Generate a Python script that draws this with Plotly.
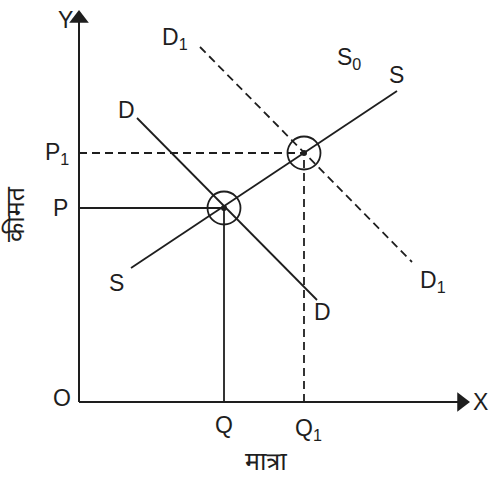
import plotly.graph_objects as go

# Coordinates measured from origin O (1 unit ~ 1 px of the reference)
# Demand D, shifted demand D1, supply S
d_x = [58, 238]
d_y = [284, 102]
d1_x = [121, 333]
d1_y = [355, 140]
s_x = [52, 318]
s_y = [134, 311]

# equilibria
eq_x = [145, 225]   # Q, Q1
eq_y = [194, 249]   # P, P1

# axes extent (arrow tips)
x_end = 391
y_end = 392

INK = "#1e1e1e"
FONT = "Liberation Sans, Arial, sans-serif"
HINDI = "Noto Sans Devanagari, Lohit Devanagari, Noto Sans, sans-serif"

fig = go.Figure()

def seg(xs, ys, dash="solid", width=1.8):
    fig.add_trace(go.Scatter(x=xs, y=ys, mode="lines",
                             line=dict(color=INK, width=width, dash=dash),
                             hoverinfo="skip", showlegend=False))

# axes
seg([0, x_end - 10], [0, 0], width=2)
seg([0, 0], [0, y_end - 10], width=2)
fig.add_trace(go.Scatter(x=[x_end - 8.5], y=[0], mode="markers",
                         marker=dict(symbol="triangle-right", size=17, color=INK),
                         hoverinfo="skip", showlegend=False))
fig.add_trace(go.Scatter(x=[0], y=[y_end - 8.5], mode="markers",
                         marker=dict(symbol="triangle-up", size=17, color=INK),
                         hoverinfo="skip", showlegend=False))

# curves
seg(d_x, d_y)
seg(s_x, s_y)
seg(d1_x, d1_y, dash="8px,5px")

# guides
seg([0, eq_x[0]], [eq_y[0], eq_y[0]])
seg([eq_x[0], eq_x[0]], [0, eq_y[0]])
seg([0, eq_x[1]], [eq_y[1], eq_y[1]], dash="8px,5px")
seg([eq_x[1], eq_x[1]], [0, eq_y[1]], dash="8px,5px")

# equilibrium markers
fig.add_trace(go.Scatter(x=eq_x, y=eq_y, mode="markers",
                         marker=dict(symbol="circle-open", size=33, color=INK,
                                     line=dict(width=1.8, color=INK)),
                         hoverinfo="skip", showlegend=False))
fig.add_trace(go.Scatter(x=eq_x, y=eq_y, mode="markers",
                         marker=dict(symbol="circle", size=6, color=INK),
                         hoverinfo="skip", showlegend=False))

labels = [
    ("Y", -14, 382),
    ("X", 401, 0),
    ("O", -17, 4),
    ("D<sub>1</sub>", 96, 364),
    ("S<sub>0</sub>", 270, 344),
    ("S", 317, 327),
    ("D", 47, 292),
    ("P<sub>1</sub>", -22, 249),
    ("P", -19, 194),
    ("S", 37, 119),
    ("D", 243, 90),
    ("D<sub>1</sub>", 354, 121),
    ("Q", eq_x[0], -23),
    ("Q<sub>1</sub>", eq_x[1] + 4, -27),
]
for txt, x, y in labels:
    fig.add_annotation(x=x, y=y, text=txt, showarrow=False,
                       font=dict(family=FONT, size=23, color=INK))

fig.add_annotation(x=-62, y=188, text="कीमत", textangle=-90, showarrow=False,
                   font=dict(family=HINDI, size=25, color=INK))
fig.add_annotation(x=187, y=-62, text="मात्रा", showarrow=False,
                   font=dict(family=HINDI, size=25, color=INK))

fig.update_layout(
    width=493, height=481,
    margin=dict(l=0, r=0, t=0, b=0),
    paper_bgcolor="white", plot_bgcolor="white",
    xaxis=dict(range=[-79, 414], visible=False, fixedrange=True),
    yaxis=dict(range=[-79, 402], visible=False, fixedrange=True),
)

fig.write_html("out.html", config={"displayModeBar": False},
               post_script="document.body.style.margin='0px';")
